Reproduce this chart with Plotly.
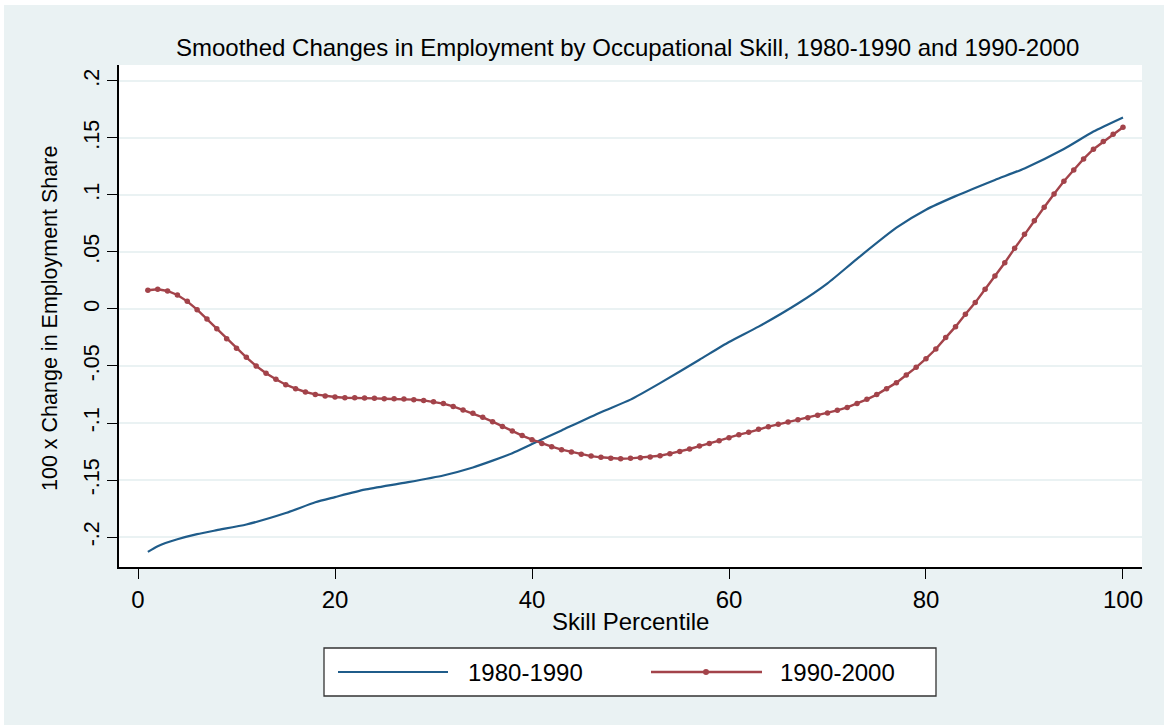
import plotly.graph_objects as go

# ---- data ----
blue_x = [1, 2, 4, 6, 8, 11, 15, 18, 20, 23, 27, 31, 34, 36, 38, 40, 43, 47, 50, 53,
          57, 60, 63, 67, 70, 73, 77, 80, 83, 87, 90, 94, 97, 100]
blue_y = [-0.213, -0.208, -0.202, -0.1975, -0.194, -0.189, -0.179, -0.1695, -0.165,
          -0.1585, -0.1525, -0.146, -0.139, -0.133, -0.1265, -0.1185, -0.1065, -0.0905,
          -0.0795, -0.065, -0.0445, -0.029, -0.0155, 0.0048, 0.0225, 0.044, 0.0713,
          0.0871, 0.099, 0.1132, 0.1233, 0.1403, 0.1556, 0.168]

red_x = list(range(1, 101))
red_y = [0.0164, 0.0173, 0.0158, 0.0123, 0.0067, -0.0006, -0.0088, -0.0173, -0.026, -0.0345,
         -0.0424, -0.05, -0.0564, -0.0617, -0.0664, -0.0699, -0.0728, -0.0749, -0.0763, -0.0772,
         -0.0778, -0.0778, -0.0781, -0.0784, -0.0787, -0.0788, -0.079, -0.0795, -0.0802, -0.0813,
         -0.083, -0.0855, -0.0886, -0.0915, -0.095, -0.0988, -0.103, -0.107, -0.111, -0.1146,
         -0.118, -0.1208, -0.1234, -0.1254, -0.1275, -0.129, -0.1301, -0.131, -0.1313, -0.131,
         -0.1304, -0.1298, -0.1287, -0.1269, -0.1249, -0.1228, -0.1202, -0.118, -0.1155, -0.1129,
         -0.1102, -0.1082, -0.1055, -0.1032, -0.1012, -0.0991, -0.0971, -0.0953, -0.0933, -0.0912,
         -0.0889, -0.0863, -0.083, -0.0792, -0.0751, -0.0699, -0.0646, -0.0579, -0.0512, -0.0436,
         -0.0351, -0.0251, -0.0155, -0.0047, 0.0056, 0.0173, 0.0289, 0.0406, 0.0532, 0.0655,
         0.0775, 0.0892, 0.1009, 0.112, 0.1219, 0.1316, 0.1401, 0.1468, 0.1532, 0.1594]

x_ticks = [0, 20, 40, 60, 80, 100]
y_ticks = [-0.2, -0.15, -0.1, -0.05, 0, 0.05, 0.1, 0.15, 0.2]
y_ticklabels = ["-.2", "-.15", "-.1", "-.05", "0", ".05", ".1", ".15", ".2"]
series_names = ["1980-1990", "1990-2000"]

title_text = "Smoothed Changes in Employment by Occupational Skill, 1980-1990 and 1990-2000"
x_title = "Skill Percentile"
y_title = "100 x Change in Employment Share"

# ---- style ----
BG = "#EAF2F3"
BLUE = "#1F5C8A"
RED = "#A3434A"
FONT = "Liberation Sans, Arial, sans-serif"
FS_H = 24     # horizontal text
FS_V = 21.5   # rotated text

W, H = 1164, 725
L, R, T, B = 119, 22, 65, 158
PW, PH = W - L - R, H - T - B


def px(xp):
    return (xp - L) / PW


def py(yp):
    return (H - B - yp) / PH


fig = go.Figure()
fig.add_trace(go.Scatter(x=blue_x, y=blue_y, mode="lines", name=series_names[0],
                         line=dict(color=BLUE, width=2.2, shape="spline", smoothing=0.6),
                         showlegend=False))
fig.add_trace(go.Scatter(x=red_x, y=red_y, mode="lines+markers", name=series_names[1],
                         line=dict(color=RED, width=2.4),
                         marker=dict(color=RED, size=5.5),
                         showlegend=False))

shapes = [
    dict(type="rect", xref="paper", yref="paper", x0=px(4), x1=px(W + 5), y0=py(H + 5), y1=py(5),
         fillcolor=BG, line=dict(width=0), layer="below"),
    dict(type="rect", xref="paper", yref="paper", x0=0, x1=1, y0=0, y1=1,
         fillcolor="white", line=dict(width=0), layer="below"),
    dict(type="rect", xref="paper", yref="paper", x0=px(324), x1=px(936), y0=py(696), y1=py(648),
         fillcolor="white", line=dict(color="#333333", width=1.3)),
    dict(type="line", xref="paper", yref="paper", x0=px(338), x1=px(448), y0=py(672), y1=py(672),
         line=dict(color=BLUE, width=2.2)),
    dict(type="line", xref="paper", yref="paper", x0=px(651), x1=px(762), y0=py(672), y1=py(672),
         line=dict(color=RED, width=2.4)),
    dict(type="circle", xref="paper", yref="paper", x0=px(703), x1=px(709), y0=py(675), y1=py(669),
         fillcolor=RED, line=dict(color=RED, width=0)),
]

annotations = [
    dict(text=title_text, xref="paper", yref="paper", x=px(627), y=py(47),
         showarrow=False, xanchor="center", yanchor="middle",
         font=dict(size=FS_H, color="black", family=FONT)),
    dict(text=x_title, xref="paper", yref="paper", x=px(630), y=py(621),
         showarrow=False, xanchor="center", yanchor="middle",
         font=dict(size=FS_H, color="black", family=FONT)),
    dict(text=y_title, xref="paper", yref="paper", x=px(50), y=py(319),
         showarrow=False, xanchor="center", yanchor="middle", textangle=-90,
         font=dict(size=FS_V, color="black", family=FONT)),
    dict(text=series_names[0], xref="paper", yref="paper", x=px(466), y=py(672),
         showarrow=False, xanchor="left", yanchor="middle",
         font=dict(size=FS_H, color="black", family=FONT)),
    dict(text=series_names[1], xref="paper", yref="paper", x=px(778), y=py(672),
         showarrow=False, xanchor="left", yanchor="middle",
         font=dict(size=FS_H, color="black", family=FONT)),
]

fig.update_layout(
    width=W, height=H,
    margin=dict(l=L, r=R, t=T, b=B, pad=0),
    paper_bgcolor="white",
    plot_bgcolor="white",
    font=dict(family=FONT, size=FS_H, color="black"),
    showlegend=False,
    shapes=shapes,
    annotations=annotations,
    xaxis=dict(range=[-1.93, 101.93], tickvals=x_ticks, ticks="outside", ticklen=10,
               tickwidth=1.2, tickcolor="black", showline=True, linecolor="black", linewidth=1.5,
               showgrid=False, zeroline=False, tickfont=dict(size=FS_H, family=FONT, color="black")),
    yaxis=dict(range=[-0.2263, 0.214], tickvals=y_ticks, ticktext=y_ticklabels, ticks="outside",
               ticklen=10, tickwidth=1.2, tickcolor="black", showline=True, linecolor="black",
               linewidth=1.5, showgrid=True, gridcolor=BG, gridwidth=2, zeroline=False,
               tickangle=-90, tickfont=dict(size=FS_V, family=FONT, color="black")),
)

fig.write_html("out.html")
